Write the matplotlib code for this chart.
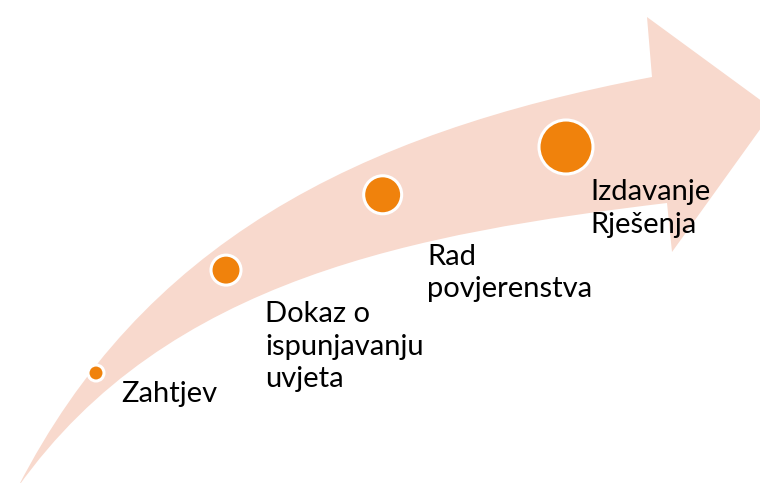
import numpy as np
import matplotlib
matplotlib.use("Agg")
import matplotlib.pyplot as plt
from matplotlib.path import Path
from matplotlib.patches import PathPatch, Circle

# koraci procesa
koraci = ["Zahtjev", "Dokaz o\nispunjavanju\nuvjeta", "Rad\npovjerenstva", "Izdavanje\nRješenja"]

# raspored (piksele, y prema dolje)
velicine = [8, 15, 19, 27]
tekst_x = [121, 265, 427, 590]
tekst_y = [402, 322, 265, 200]
razmak = 32.5

ROZA = "#F8D9CD"
NARANCASTA = "#F0820C"

fig = plt.figure(figsize=(7.6, 4.83), dpi=100)
ax = fig.add_axes([0, 0, 1, 1])
ax.set_xlim(0, 760)
ax.set_ylim(483, 0)
ax.axis("off")

# zakrivljena strelica
verts = [
    (18, 487),
    (142, 245.5), (352, 134), (652, 77),     # gornji rub
    (647, 17), (774, 110), (672, 252), (667, 203),  # vrh strelice
    (418, 233), (167, 277.5), (18, 487),     # donji rub
    (18, 487),
]
codes = [Path.MOVETO,
         Path.CURVE4, Path.CURVE4, Path.CURVE4,
         Path.LINETO, Path.LINETO, Path.LINETO, Path.LINETO,
         Path.CURVE4, Path.CURVE4, Path.CURVE4,
         Path.CLOSEPOLY]
ax.add_patch(PathPatch(Path(verts, codes), facecolor=ROZA, edgecolor="none"))

# krugovi na vodilici
g0, g1, g2 = np.array([96, 373]), np.array([271, 198]), np.array([566, 147])
n = len(koraci)
for i in range(n):
    t = i / (n - 1)
    c = (1 - t) ** 2 * g0 + 2 * (1 - t) * t * g1 + t ** 2 * g2
    ax.add_patch(Circle(c, velicine[i], facecolor=NARANCASTA, edgecolor="white", linewidth=2.2, zorder=3))

# tekst
for i, k in enumerate(koraci):
    for j, red in enumerate(k.split("\n")):
        ax.text(tekst_x[i], tekst_y[i] + j * razmak, red, fontsize=21, family="Lato",
                ha="left", va="baseline", color="black", zorder=4)

fig.savefig("out.png", dpi=100)
